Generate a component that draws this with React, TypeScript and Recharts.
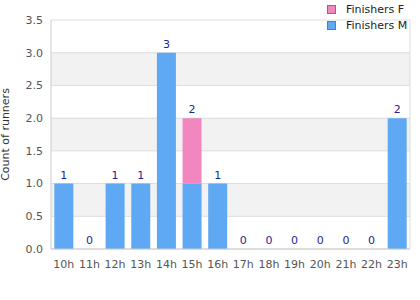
import React from 'react'
import {
  ComposedChart,
  Bar,
  Line,
  XAxis,
  YAxis,
  CartesianGrid,
  LabelList,
} from 'recharts'

const hours = ['10h', '11h', '12h', '13h', '14h', '15h', '16h', '17h', '18h', '19h', '20h', '21h', '22h', '23h']
const finishersM = [1, 0, 1, 1, 3, 1, 1, 0, 0, 0, 0, 0, 0, 2]
const finishersF = [0, 0, 0, 0, 0, 1, 0, 0, 0, 0, 0, 0, 0, 0]
const yTicks = [0, 0.5, 1, 1.5, 2, 2.5, 3, 3.5]

const BLUE = '#5fa8f3'
const PINK = '#f286bf'
const font = 'DejaVu Sans, Verdana, sans-serif'

const data = hours.map((h, i) => ({
  hour: h,
  m: finishersM[i],
  f: finishersF[i],
  total: finishersM[i] + finishersF[i],
}))

const legendItems = [
  { label: 'Finishers F', color: PINK },
  { label: 'Finishers M', color: BLUE },
]

export default function App() {
  return (
    <div style={{ position: 'fixed', left: 0, top: 0, width: 420, height: 300, background: '#fff', fontFamily: font }}>
      <ComposedChart
        width={420}
        height={300}
        data={data}
        margin={{ top: 20, right: 10, left: 0, bottom: 21 }}
        barCategoryGap="13%"
      >
        <CartesianGrid
          stroke="#dddddd"
          horizontalFill={['#ffffff', '#f2f2f2']}
          verticalCoordinatesGenerator={({ offset }: any) => [offset.left + offset.width]}
        />
        <XAxis
          dataKey="hour"
          height={30}
          interval={0}
          tickLine={false}
          tickMargin={5}
          axisLine={{ stroke: '#cccccc' }}
          tick={{ fontSize: 11, fill: '#555555', fontFamily: font }}
        />
        <YAxis
          width={51}
          domain={[0, 3.5]}
          ticks={yTicks}
          tickFormatter={(v: number) => v.toFixed(1)}
          tickLine={false}
          axisLine={{ stroke: '#cccccc' }}
          tick={{ fontSize: 11, fill: '#555555', fontFamily: font }}
          label={{
            value: 'Count of runners',
            angle: -90,
            position: 'insideLeft',
            offset: 5,
            style: { textAnchor: 'middle', fontSize: 11, fill: '#333333', fontFamily: font },
          }}
        />
        <Bar dataKey="m" stackId="a" fill={BLUE} isAnimationActive={false} />
        <Bar dataKey="f" stackId="a" fill={PINK} isAnimationActive={false} />
        {/* invisible line, only carries the total labels above each stack */}
        <Line
          dataKey="total"
          stroke="none"
          dot={false}
          activeDot={false}
          isAnimationActive={false}
        >
          <LabelList
            dataKey="total"
            position="top"
            offset={5}
            style={{ fontSize: 11, fill: '#1f1f8f', fontFamily: font }}
          />
        </Line>
      </ComposedChart>
      <div style={{ position: 'absolute', left: 327, top: 1, fontSize: 11, color: '#222' }}>
        {legendItems.map(it => (
          <div key={it.label} style={{ display: 'flex', alignItems: 'center', height: 16 }}>
            <span
              style={{
                display: 'inline-block',
                width: 7,
                height: 7,
                background: it.color,
                border: '1px solid #777',
                marginRight: 10,
              }}
            />
            <span>{it.label}</span>
          </div>
        ))}
      </div>
    </div>
  )
}
